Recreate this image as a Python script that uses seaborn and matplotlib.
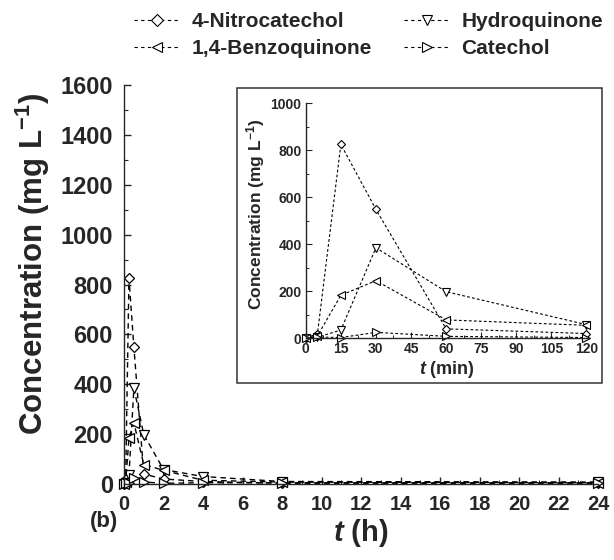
import numpy as np
import pandas as pd
import matplotlib
matplotlib.use("Agg")
import matplotlib.pyplot as plt
from matplotlib.patches import Rectangle
from matplotlib.ticker import MultipleLocator
import seaborn as sns

# Sampling times (min) and measured concentrations (mg/L)
time_min = [0, 5, 15, 30, 60, 120, 240, 480, 1440]
nitrocatechol = [0, 20, 825, 548, 40, 20, 10, 3, 3]
hydroquinone = [0, 4, 35, 385, 198, 58, 30, 10, 8]
benzoquinone = [0, 10, 183, 245, 78, 55, 15, 8, 5]
catechol = [0, 5, 3, 25, 8, 3, 5, 5, 5]

compounds = ["4-Nitrocatechol", "Hydroquinone", "1,4-Benzoquinone", "Catechol"]
series = [nitrocatechol, hydroquinone, benzoquinone, catechol]
marker_of = {"4-Nitrocatechol": "D", "Hydroquinone": "v",
             "1,4-Benzoquinone": "<", "Catechol": ">"}
inset_max_min = 120

rows = []
for name, vals in zip(compounds, series):
    for t, c in zip(time_min, vals):
        rows.append({"compound": name, "t_min": t, "t_h": t / 60.0, "conc": c})
df = pd.DataFrame(rows)
df_inset = df[df["t_min"] <= inset_max_min]

sns.set_theme(style="ticks")
plt.rcParams.update({
    "font.family": ["Liberation Sans", "DejaVu Sans"],
    "font.weight": "bold",
    "axes.labelweight": "bold",
    "mathtext.fontset": "custom",
    "mathtext.rm": "Liberation Sans:bold",
    "mathtext.it": "Liberation Sans:bold:italic",
    "mathtext.bf": "Liberation Sans:bold",
    "axes.linewidth": 1.0,
    "xtick.direction": "in",
    "ytick.direction": "in",
})

fig = plt.figure(figsize=(6.14, 5.6), dpi=100)
ax = fig.add_axes([0.202, 0.1357, 0.772, 0.7125])

for name in compounds:
    sub = df[df["compound"] == name]
    m = marker_of[name]
    sns.lineplot(data=sub, x="t_h", y="conc", ax=ax, color="black",
                 marker=m, markersize=5.5 if m == "D" else 7.5,
                 markerfacecolor="white", markeredgecolor="black",
                 markeredgewidth=0.9, linewidth=1.0, dashes=(4, 3),
                 estimator=None, sort=False, clip_on=False, label=name,
                 legend=False)

ax.set_xlim(0, 24)
ax.set_ylim(0, 1600)
ax.xaxis.set_major_locator(MultipleLocator(2))
ax.xaxis.set_minor_locator(MultipleLocator(1))
ax.yaxis.set_major_locator(MultipleLocator(200))
ax.yaxis.set_minor_locator(MultipleLocator(100))
ax.tick_params(which="major", length=5, width=1)
ax.tick_params(axis="y", which="major", pad=8, labelsize=17)
ax.tick_params(axis="x", which="major", pad=8, labelsize=14.5)
ax.tick_params(which="minor", length=3, width=0.8)
for lab in ax.get_xticklabels() + ax.get_yticklabels():
    lab.set_fontweight("bold")
sns.despine(ax=ax)
ax.set_xlabel(r"$t$ (h)", fontsize=21, fontweight="bold", labelpad=2)
ax.set_ylabel(r"Concentration (mg L$^{-1}$)", fontsize=22.5,
              fontweight="bold")
ax.yaxis.set_label_coords(-0.152, 0.553)
fig.text(0.169, 0.068, "(b)", fontsize=16, fontweight="bold",
         ha="center", va="center")

# Framed inset showing the first two hours
frame = Rectangle((0.386, 0.316), 0.594, 0.527, transform=fig.transFigure,
                  facecolor="white", edgecolor="#333333", linewidth=1.1,
                  zorder=1)
fig.add_artist(frame)

axin = fig.add_axes([0.498, 0.396, 0.461, 0.4196], zorder=2)
axin.patch.set_alpha(0)
for name in compounds:
    sub = df_inset[df_inset["compound"] == name]
    m = marker_of[name]
    sns.lineplot(data=sub, x="t_min", y="conc", ax=axin, color="black",
                 marker=m, markersize=4 if m == "D" else 6,
                 markerfacecolor="white", markeredgecolor="black",
                 markeredgewidth=0.8, linewidth=0.8, dashes=(2.5, 2),
                 estimator=None, sort=False, clip_on=False, label=name,
                 legend=False)

axin.set_xlim(0, 121)
axin.set_ylim(0, 1000)
axin.xaxis.set_major_locator(MultipleLocator(15))
axin.xaxis.set_minor_locator(MultipleLocator(7.5))
axin.yaxis.set_major_locator(MultipleLocator(200))
axin.yaxis.set_minor_locator(MultipleLocator(100))
axin.tick_params(which="major", length=4, width=0.8, labelsize=10, pad=3)
axin.tick_params(which="minor", length=2.5, width=0.7)
for lab in axin.get_xticklabels() + axin.get_yticklabels():
    lab.set_fontweight("bold")
sns.despine(ax=axin)
axin.set_xlabel(r"$t$ (min)", fontsize=13, fontweight="bold", labelpad=2)
axin.set_ylabel(r"Concentration (mg L$^{-1}$)", fontsize=12.5,
                fontweight="bold")
axin.yaxis.set_label_coords(-0.138, 0.528)

# Legend above the plot, two columns
handles = {l.get_label(): l for l in axin.get_lines()}
order = ["4-Nitrocatechol", "1,4-Benzoquinone", "Hydroquinone", "Catechol"]
leg = fig.legend([handles[n] for n in order], order, loc="upper center",
                 bbox_to_anchor=(0.6, 1.012), ncol=2, frameon=False,
                 prop={"weight": "bold", "size": 15}, handlelength=2.2,
                 handletextpad=0.55, columnspacing=1.55, labelspacing=0.4)
for h in leg.legend_handles:
    h.set_dashes((3, 3))
    h.set_linewidth(0.8)
    h.set_markersize(6 if h.get_marker() == "D" else 7)

fig.savefig("out.png", dpi=100, facecolor="white")
